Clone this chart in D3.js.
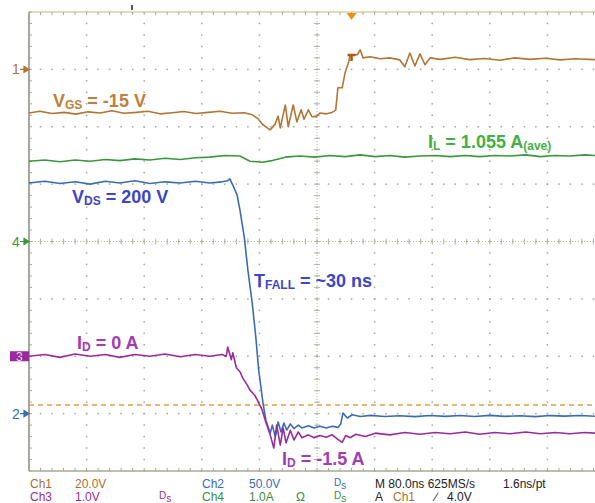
<!DOCTYPE html>
<html lang="en">
<head>
<meta charset="utf-8">
<script src="https://d3js.org/d3.v7.min.js"></script>
<title>Scope capture</title>
<style>
  body { margin: 0; background: #fff; }
  .lbl { font-family: "Liberation Sans", Arial, sans-serif; font-weight: bold; font-size: 18px; }
  .rd { font-family: "Liberation Sans Narrow", "Arial Narrow", "Liberation Sans", sans-serif; font-size: 12px; font-stretch: condensed; }
</style>
</head>
<body>
<svg width="595" height="503"></svg>
<script>
// time in ns from left edge of screen, values in channel units
var vgsTrace = [
  [0,-15.2],[15,-14.6],[32,-15.4],[49,-15.0],[65,-15.6],[82,-14.8],[99,-15.2],[115,-14.4],
  [132,-15.3],[149,-15.0],[165,-14.6],[182,-15.5],[199,-15.1],[215,-14.7],[232,-15.4],[249,-15.0],
  [265,-14.6],[282,-15.3],[299,-15.1],[310,-15.8],[318,-17.2],[325,-19.3],[335,-21.1],[342,-19.0],
  [346,-16.3],[349,-20.4],[356,-12.4],[360,-20.0],[367,-12.4],[372,-18.3],[378,-14.1],[382,-17.4],
  [388,-14.1],[393,-16.5],[399,-16.5],[404,-15.2],[413,-15.5],[421,-15.0],[426,-14.2],[429,-6.4],
  [435,-6.4],[439,-1.2],[444,2.6],[446,5.1],[456,5.1],[460,6.8],[464,4.0],[474,4.4],[488,3.7],
  [501,4.0],[515,3.3],[522,0.9],[529,5.7],[536,1.2],[543,5.4],[550,1.6],[557,4.0],[571,3.5],
  [592,4.2],[612,3.4],[633,3.8],[654,3.2],[675,4.0],[696,3.5],[717,3.9],[738,3.3],[758,3.7],[786,3.4]
];
var vdsTrace = [
  [0,201],[22,202.5],[43,200.5],[64,202],[85,200],[106,202.5],[126,201],[147,203],[168,200.5],
  [189,202],[210,201],[231,202.5],[251,201],[268,202],[276,203],[279,204.5],[283,199.2],[289,190.6],
  [293,177.4],[299,153.9],[304,125],[310,96.4],[315,66.8],[319,38],[325,9.2],[329,-5.7],[335,-17],
  [338,-10],[342,-20.3],[346,-7.3],[350,-16],[354,-8.2],[358,-14.3],[363,-9],[368,-13],[374,-10],
  [379,-12.5],[388,-10.5],[396,-12.5],[404,-11],[413,-12.5],[421,-11],[429,-12],[433,-9],[436,0.5],
  [442,-3.8],[449,-1],[460,-2.5],[474,-1.5],[494,-2.5],[515,-1.8],[536,-2.6],[557,-1.6],[578,-2.4],
  [599,-1.7],[619,-2.5],[640,-1.5],[661,-2.4],[682,-1.8],[703,-2.6],[724,-1.7],[744,-2.2],[765,-1.6],[786,-2.3]
];
var idTrace = [
  [0,0.0],[22,0.03],[43,-0.02],[64,0.04],[85,0.0],[106,0.03],[126,-0.02],[147,0.03],[168,0.0],
  [189,0.04],[210,-0.01],[231,0.03],[251,0.0],[268,0.03],[274,0.0],[276,0.16],[281,-0.06],[283,0.06],
  [288,-0.2],[293,-0.27],[297,-0.38],[303,-0.5],[307,-0.59],[313,-0.67],[317,-0.76],[324,-0.94],
  [328,-1.11],[335,-1.37],[340,-1.6],[344,-1.2],[349,-1.55],[353,-1.25],[357,-1.51],[363,-1.29],
  [368,-1.46],[374,-1.32],[379,-1.42],[388,-1.37],[396,-1.42],[404,-1.38],[413,-1.41],[421,-1.37],
  [429,-1.45],[435,-1.5],[440,-1.38],[446,-1.42],[454,-1.36],[467,-1.4],[481,-1.34],[501,-1.37],
  [522,-1.33],[543,-1.36],[564,-1.33],[585,-1.35],[606,-1.32],[626,-1.36],[647,-1.33],[668,-1.35],
  [690,-1.32],[710,-1.35],[731,-1.33],[751,-1.35],[772,-1.33],[786,-1.34]
];
var ilTrace = [
  [0,1.40],[22,1.42],[43,1.39],[64,1.42],[85,1.40],[106,1.43],[126,1.41],[147,1.44],[168,1.42],
  [189,1.45],[210,1.43],[231,1.46],[251,1.47],[272,1.50],[293,1.49],[307,1.40],[324,1.38],[338,1.41],
  [356,1.47],[376,1.49],[397,1.47],[418,1.50],[439,1.48],[460,1.51],[481,1.48],[501,1.50],[522,1.47],
  [543,1.49],[564,1.50],[585,1.48],[606,1.50],[626,1.48],[647,1.50],[668,1.49],[690,1.51],[710,1.48],
  [731,1.50],[751,1.49],[772,1.51],[786,1.50]
];

// channel settings: volts/div, marker position in divisions
var channels = [
  {name: "Ch1", scale: 20, pos: 3, trace: vgsTrace, color: "#b07636", mark: "1"},
  {name: "Ch2", scale: 50, pos: -3, trace: vdsTrace, color: "#3a6cb2", mark: "2"},
  {name: "Ch3", scale: 1, pos: -2, trace: idTrace, color: "#982c9c", mark: "3"},
  {name: "Ch4", scale: 1, pos: 0, trace: ilTrace, color: "#3c963c", mark: "4"}
];
var cursorDiv = -2.85;   // orange dashed level
var triggerTime = 448;   // ns

var svg = d3.select("svg");
var x = d3.scaleLinear().domain([0, 800]).range([29, 605]);
var yDiv = d3.scaleLinear().domain([-4, 4]).range([471, 12]);

var grid = svg.append("g").attr("fill", "#a4a498");

// dotted graticule
d3.range(80, 800, 80).forEach(function (t) {
  d3.range(-4, 4.01, 0.2).forEach(function (d) {
    grid.append("rect").attr("x", x(t) - 0.75).attr("y", yDiv(d) - 0.75).attr("width", 1.5).attr("height", 1.5);
  });
});
d3.range(-3, 4, 1).forEach(function (d) {
  d3.range(16, 800, 16).forEach(function (t) {
    grid.append("rect").attr("x", x(t) - 0.75).attr("y", yDiv(d) - 0.75).attr("width", 1.5).attr("height", 1.5);
  });
});

// center cross with ticks
var cross = svg.append("g").attr("stroke", "#b4b4a4").attr("stroke-width", 1);
cross.append("line").attr("x1", x(0)).attr("x2", x(800)).attr("y1", yDiv(0)).attr("y2", yDiv(0))
  .attr("stroke-dasharray", "1,2");
cross.append("line").attr("x1", x(400)).attr("x2", x(400)).attr("y1", yDiv(4)).attr("y2", yDiv(-4))
  .attr("stroke-dasharray", "1,2");
d3.range(0, 800, 16).forEach(function (t) {
  cross.append("line").attr("x1", x(t)).attr("x2", x(t)).attr("y1", yDiv(0) - 3).attr("y2", yDiv(0) + 3);
});
d3.range(-4, 4.01, 0.2).forEach(function (d) {
  cross.append("line").attr("x1", x(400) - 3).attr("x2", x(400) + 3).attr("y1", yDiv(d)).attr("y2", yDiv(d));
});

// border with ticks
var border = svg.append("g").attr("stroke", "#a8a898");
border.append("line").attr("x1", x(0)).attr("x2", x(800)).attr("y1", yDiv(4)).attr("y2", yDiv(4))
  .attr("stroke", "#d4d4a8").attr("stroke-width", 1.5);
border.append("line").attr("x1", x(0)).attr("x2", x(800)).attr("y1", yDiv(-4)).attr("y2", yDiv(-4))
  .attr("stroke-width", 1.5);
border.append("line").attr("x1", x(0)).attr("x2", x(0)).attr("y1", yDiv(4)).attr("y2", yDiv(-4))
  .attr("stroke-width", 2);
d3.range(16, 800, 16).forEach(function (t) {
  border.append("line").attr("x1", x(t)).attr("x2", x(t)).attr("y1", yDiv(4)).attr("y2", yDiv(4) + 3);
  border.append("line").attr("x1", x(t)).attr("x2", x(t)).attr("y1", yDiv(-4)).attr("y2", yDiv(-4) - 3);
});
d3.range(-4, 4.01, 0.2).forEach(function (d) {
  border.append("line").attr("x1", x(0)).attr("x2", x(0) + 3).attr("y1", yDiv(d)).attr("y2", yDiv(d));
});

// cursor level
svg.append("line").attr("x1", x(0)).attr("x2", x(800)).attr("y1", yDiv(cursorDiv)).attr("y2", yDiv(cursorDiv))
  .attr("stroke", "#e0a040").attr("stroke-width", 1.3).attr("stroke-dasharray", "5,4");

// traces
var order = [3, 0, 1, 2];
order.forEach(function (i) {
  var ch = channels[i];
  var line = d3.line()
    .x(function (d) { return x(d[0]); })
    .y(function (d) { return yDiv(ch.pos + d[1] / ch.scale); });
  svg.append("path").datum(ch.trace).attr("d", line)
    .attr("fill", "none").attr("stroke", ch.color).attr("stroke-width", 1.6)
    .attr("stroke-linejoin", "round");
});

// trigger marks
var tx = x(triggerTime);
svg.append("path").attr("d", "M" + (tx - 5) + "," + 13 + "L" + (tx + 5) + "," + 13 + "L" + tx + "," + 20 + "Z")
  .attr("fill", "#f0901c");
svg.append("path").attr("d", "M" + (tx - 4) + "," + 55 + "H" + (tx + 4) + "M" + tx + ",55V61")
  .attr("stroke", "#b05a10").attr("stroke-width", 2.5).attr("fill", "none");
svg.append("line").attr("x1", 132).attr("x2", 132).attr("y1", 5).attr("y2", 10).attr("stroke", "#222").attr("stroke-width", 1.5);

// channel ground markers
channels.forEach(function (ch) {
  var yy = yDiv(ch.pos);
  if (ch.mark === "3") {
    svg.append("rect").attr("x", 10).attr("y", yy - 5).attr("width", 19).attr("height", 10).attr("fill", ch.color);
    svg.append("text").attr("x", 16).attr("y", yy + 4.5).attr("class", "rd").attr("fill", "#f0d8f0")
      .style("font-size", "12px").text("3");
  } else {
    svg.append("text").attr("x", 12).attr("y", yy + 5).attr("class", "rd").attr("fill", ch.color)
      .style("font-size", "14px").text(ch.mark);
  }
  svg.append("path").attr("d", "M20," + yy + "H26M24," + (yy - 3) + "L29," + yy + "L24," + (yy + 3) + "Z")
    .attr("stroke", ch.color).attr("fill", ch.color).attr("stroke-width", 1.2);
});

// annotations
function label(px, py, color, parts) {
  var t = svg.append("text").attr("class", "lbl").attr("x", px).attr("y", py).attr("fill", color);
  parts.forEach(function (p) {
    var s = t.append("tspan").text(p[0]);
    if (p[1]) s.style("font-size", "12px").attr("dy", 2);
    else if (p[2]) s.attr("dy", -2);
  });
}
label(53, 107, "#c0803c", [["V"], ["GS", true], [" = -15 V", false, true]]);
label(428, 148, "#44b044", [["I"], ["L", true], [" = 1.055 A", false, true], ["(ave)", true]]);
label(72, 203, "#3c46c8", [["V"], ["DS", true], [" = 200 V", false, true]]);
label(254, 287, "#3c46c8", [["T"], ["FALL", true], [" = ~30 ns", false, true]]);
label(77, 349, "#a23cb4", [["I"], ["D", true], [" = 0 A", false, true]]);
label(282, 465, "#a23cb4", [["I"], ["D", true], [" = -1.5 A", false, true]]);

// readout
var readout = [
  [30, 488, "#a07232", "Ch1"], [75, 488, "#a07232", "20.0V"],
  [202, 488, "#3a6cb2", "Ch2"], [249, 488, "#3a6cb2", "50.0V"],
  [375, 488, "#222", "M 80.0ns 625MS/s"], [503, 488, "#222", "1.6ns/pt"],
  [30, 501, "#982c9c", "Ch3"], [75, 501, "#982c9c", "1.0V"],
  [202, 501, "#3c8c3c", "Ch4"], [249, 501, "#3c8c3c", "1.0A"], [296, 501, "#3c8c3c", "\u03a9"],
  [375, 501, "#222", "A"], [393, 501, "#a07232", "Ch1"], [435, 501, "#222", "\u2215"], [447, 501, "#222", "4.0V"]
];
readout.forEach(function (r) {
  svg.append("text").attr("class", "rd").attr("x", r[0]).attr("y", r[1]).attr("fill", r[2]).text(r[3]);
});
var dsMarks = [[334, 488, "#3a6cb2"], [159, 501, "#982c9c"], [334, 501, "#3c8c3c"]];
dsMarks.forEach(function (m) {
  var t = svg.append("text").attr("class", "rd").attr("x", m[0]).attr("y", m[1] - 2).attr("fill", m[2])
    .style("font-size", "10px");
  t.append("tspan").text("D");
  t.append("tspan").attr("dy", 3).text("s");
});
</script>
</body>
</html>
